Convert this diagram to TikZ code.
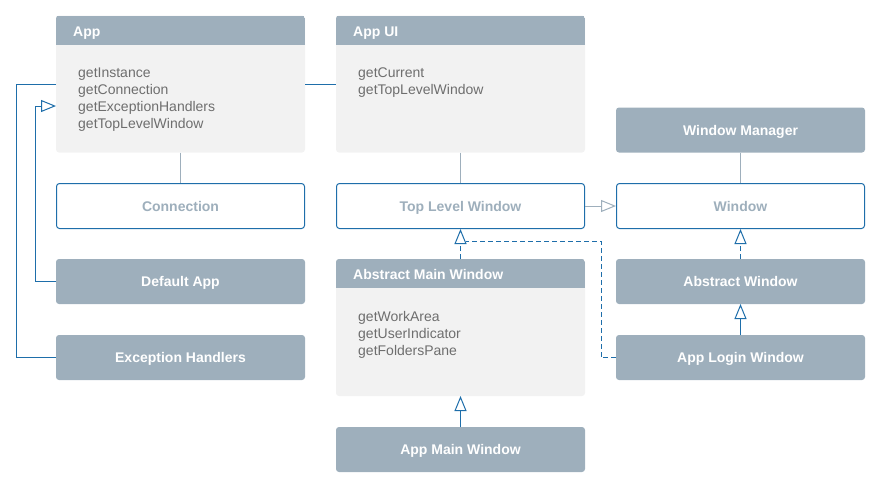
\documentclass[tikz,border=0pt]{standalone}
\usepackage{fontspec}
\setmainfont{Liberation Sans}
\usepackage{tikz}
\usetikzlibrary{arrows.meta, calc}

\definecolor{headfill}{RGB}{158,175,188}
\definecolor{bodyfill}{RGB}{242,242,242}
\definecolor{methodtext}{RGB}{110,110,110}
\definecolor{linkblue}{RGB}{30,110,170}

\begin{document}
\begin{tikzpicture}[
  x=1pt, y=-1pt,
  classbox/.style = {fill=bodyfill, rounded corners=3pt, minimum width=249pt, minimum height=137pt, outer sep=0pt, inner sep=0pt},
  headtext/.style = {anchor=base west, inner sep=0pt, text=white, font=\fontsize{14}{17}\selectfont\bfseries},
  methods/.style = {anchor=north west, inner sep=0pt, align=left, text=methodtext, font=\fontsize{14}{17}\selectfont},
  plainbox/.style = {fill=headfill, rounded corners=3pt, minimum width=249pt, minimum height=45pt, outer sep=0pt, text height=10pt, text depth=0pt, text=white, font=\fontsize{14}{17}\selectfont\bfseries},
  outlinebox/.style = {draw=linkblue, line width=1pt, fill=white, rounded corners=3pt, minimum width=248pt, minimum height=45pt, text height=10pt, text depth=0pt, text=headfill, font=\fontsize{14}{17}\selectfont\bfseries},
  assoc/.style = {draw=linkblue, line width=1pt},
  link/.style = {draw=headfill, line width=1pt},
  inherit/.style = {draw=linkblue, line width=1pt, -{Triangle[open, length=15pt, width=12pt, fill=white]}},
  realize/.style = {inherit, dash pattern=on 5pt off 3pt},
  realizeline/.style = {assoc, dash pattern=on 5pt off 3pt}
]
  \useasboundingbox (0,0) rectangle (881,488);

  % Class boxes with methods
  \node[classbox] (app) at (180.5,84) {};
  \node[classbox] (appui) at (460.5,84) {};
  \node[classbox] (absmain) at (460.5,327.5) {};
  \foreach \cls in {app, appui, absmain} {
    \begin{scope}
      \clip[rounded corners=3pt] (\cls.south west) rectangle (\cls.north east);
      \fill[headfill] (\cls.north west) rectangle ($(\cls.north east)+(0,29)$);
    \end{scope}
  }
  \node[headtext] at ($(app.north west)+(17,20.5)$) {App};
  \node[headtext] at ($(appui.north west)+(17,20.5)$) {App UI};
  \node[headtext] at ($(absmain.north west)+(17,20.5)$) {Abstract Main Window};
  \node[methods] at ($(app.north west)+(22,52)$)
    {getInstance\\getConnection\\getExceptionHandlers\\getTopLevelWindow};
  \node[methods] at ($(appui.north west)+(22,52)$)
    {getCurrent\\getTopLevelWindow};
  \node[methods] at ($(absmain.north west)+(22,52)$)
    {getWorkArea\\getUserIndicator\\getFoldersPane};

  % Plain boxes
  \node[plainbox] (winmgr) at (740.5,130) {Window Manager};
  \node[plainbox] (defapp) at (180.5,281.5) {Default App};
  \node[plainbox] (exch) at (180.5,357.5) {Exception Handlers};
  \node[plainbox] (abswin) at (740.5,281.5) {Abstract Window};
  \node[plainbox] (applogin) at (740.5,357.5) {App Login Window};
  \node[plainbox] (appmain) at (460.5,449.5) {App Main Window};

  % Interfaces
  \node[outlinebox] (conn) at (180.5,206) {Connection};
  \node[outlinebox] (toplevel) at (460.5,206) {Top Level Window};
  \node[outlinebox] (window) at (740.5,206) {Window};

  % Associations
  \draw[assoc] (app.west) -- ++(-40,0) |- (exch.west);
  \draw[assoc] (app.east) -- (appui.west);
  \draw[link] (app.south) -- (conn.north);
  \draw[link] (appui.south) -- (toplevel.north);
  \draw[link] (winmgr.south) -- (window.north);
  \draw[link, -{Triangle[open, length=15pt, width=12pt, fill=white]}] (toplevel.east) -- (window.west);

  % Inheritance
  \draw[inherit] (defapp.west) -- ++(-21,0) |- ($(app.west)+(0,22)$);
  \draw[inherit] (appmain.north) -- (absmain.south);
  \draw[inherit] (applogin.north) -- (abswin.north |- abswin.south);

  % Realization
  \draw[realize] (absmain.north) -- (toplevel.south);
  \draw[realize] (abswin.north) -- (window.south);
  \draw[realizeline] (applogin.west) -- ++(-15,0) |- ($(toplevel.south)+(5,12)$);

\end{tikzpicture}
\end{document}
